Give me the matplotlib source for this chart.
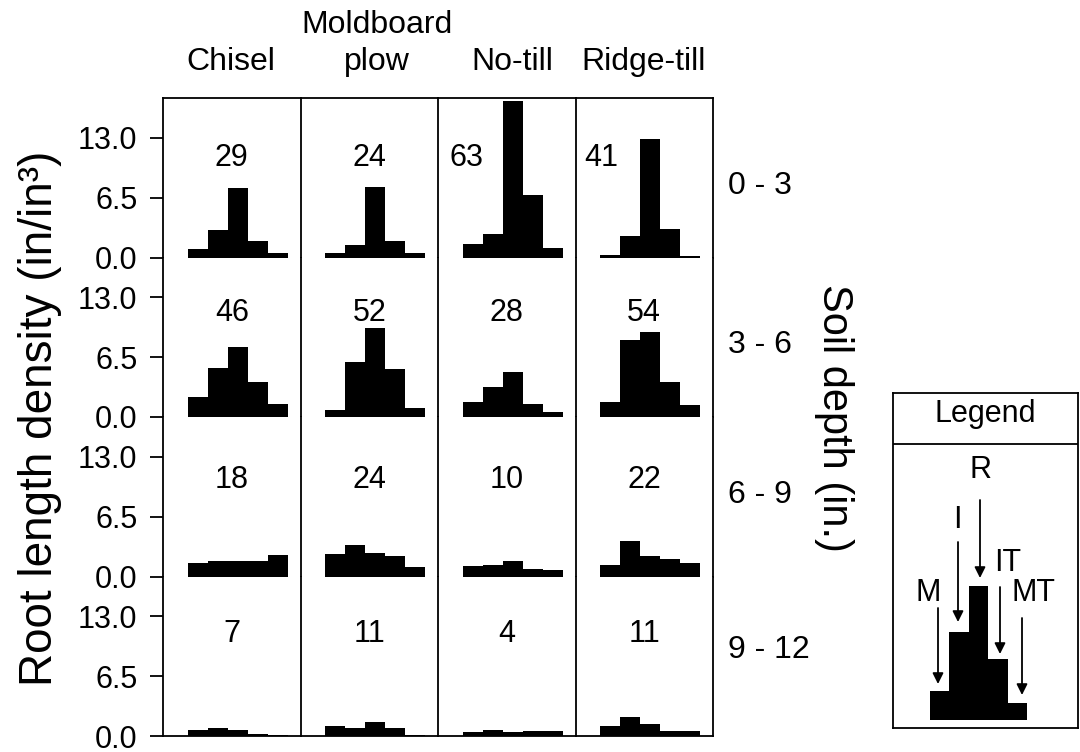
import matplotlib
matplotlib.use('Agg')
import matplotlib.pyplot as plt
import matplotlib.transforms as mtransforms
import numpy as np

plt.rcParams['font.family'] = ['Liberation Sans', 'DejaVu Sans']

# ---------------- data ----------------
tillage = ['Chisel', 'Moldboard plow', 'No-till', 'Ridge-till']
depths = ['0 - 3', '3 - 6', '6 - 9', '9 - 12']
positions = ['M', 'I', 'R', 'IT', 'MT']
yticks = [0.0, 6.5, 13.0]
ytick_labels = ['0.0', '6.5', '13.0']

# root length density (in/in^3) at positions M, I, R, IT, MT; one list per depth
chisel = [[0.9, 3.0, 7.5, 1.8, 0.5],
          [2.2, 5.3, 7.6, 3.8, 1.4],
          [1.5, 1.65, 1.65, 1.65, 2.35],
          [0.6, 0.9, 0.6, 0.2, 0.15]]
moldboard = [[0.5, 1.35, 7.6, 1.8, 0.5],
             [0.8, 6.0, 9.7, 5.2, 1.0],
             [2.4, 3.45, 2.6, 2.2, 1.05],
             [1.1, 0.85, 1.5, 0.9, 0.1]]
notill = [[1.45, 2.5, 17.0, 6.8, 1.05],
          [1.6, 3.2, 4.9, 1.45, 0.55],
          [1.1, 1.25, 1.7, 0.85, 0.75],
          [0.4, 0.6, 0.4, 0.55, 0.55]]
ridgetill = [[0.3, 2.3, 12.8, 3.1, 0.2],
             [1.65, 8.4, 9.25, 3.8, 1.25],
             [1.25, 3.9, 2.2, 1.9, 1.5],
             [1.1, 2.1, 1.25, 0.55, 0.55]]
# numbers printed in each panel (rows = depths, columns = tillage)
panel_numbers = [[29, 24, 63, 41],
                 [46, 52, 28, 54],
                 [18, 24, 10, 22],
                 [7, 11, 4, 11]]
# schematic shape used in the legend diagram (M, I, R, IT, MT)
legend_shape = [29, 88, 134, 61, 17]

series = [chisel, moldboard, notill, ridgetill]

# ---------------- figure ----------------
W, H = 1080, 752
fig = plt.figure(figsize=(W / 100, H / 100), dpi=100)

L, R_, T, B = 163, 713, 98, 736
axes = fig.subplots(4, 4, gridspec_kw=dict(left=L / W, right=R_ / W,
                                            top=1 - T / H, bottom=1 - B / H,
                                            hspace=0, wspace=0))
lw = 1.3
x = np.arange(len(positions))
num_y = [10.8, 11.3, 10.5, 11.1]
for r in range(4):
    for c in range(4):
        ax = axes[r, c]
        ax.bar(x, series[c][r], width=1.0, color='black', edgecolor='none')
        ax.set_xlim(-1.725, 5.15)
        ax.set_ylim(0, 17.3)
        ax.set_xticks([])
        for s in ['top', 'bottom', 'left', 'right']:
            ax.spines[s].set_linewidth(lw)
        ax.spines['top'].set_visible(r == 0)
        ax.spines['bottom'].set_visible(r == 3)
        ax.spines['right'].set_visible(c == 3)
        ax.spines['left'].set_visible(True)
        if c == 0:
            ax.set_yticks(yticks)
            ax.set_yticklabels(ytick_labels)
            ax.tick_params(axis='y', direction='out', length=9.5, width=lw,
                           pad=9, labelsize=22)
        else:
            ax.set_yticks([])
        fx = 0.5
        if r == 0 and c == 2:
            fx = 0.21
        if r == 0 and c == 3:
            fx = 0.19
        trans = mtransforms.blended_transform_factory(ax.transAxes, ax.transData)
        ax.text(fx, num_y[r], str(panel_numbers[r][c]), transform=trans,
                ha='center', va='center', fontsize=22)

# column headers
hdr_x = [231, 377, 512, 644]
hfs = 23
fig.text(hdr_x[0] / W, 1 - 70 / H, 'Chisel', ha='center', va='baseline', fontsize=hfs)
fig.text(hdr_x[1] / W, 1 - 33 / H, 'Moldboard', ha='center', va='baseline', fontsize=hfs)
fig.text(hdr_x[1] / W, 1 - 70 / H, 'plow', ha='center', va='baseline', fontsize=hfs)
fig.text(hdr_x[2] / W, 1 - 70 / H, 'No-till', ha='center', va='baseline', fontsize=hfs)
fig.text(hdr_x[3] / W, 1 - 70 / H, 'Ridge-till', ha='center', va='baseline', fontsize=hfs)

# depth labels
depth_y = [186, 345, 495, 650]
for lab, py in zip(depths, depth_y):
    fig.text(728 / W, 1 - py / H, lab, ha='left', va='center', fontsize=23)

fig.text(834 / W, 1 - 418 / H, 'Soil depth (in.)', rotation=270,
         ha='center', va='center', fontsize=30)
fig.text(40 / W, 1 - 418 / H, 'Root length density (in/in\u00b3)', rotation=90,
         ha='center', va='center', fontsize=33)

# ---------------- legend diagram ----------------
lx0, lx1, ly0, ly1 = 893, 1078, 393, 728
lax = fig.add_axes([lx0 / W, 1 - ly1 / H, (lx1 - lx0) / W, (ly1 - ly0) / H])
lax.set_xlim(lx0, lx1)
lax.set_ylim(H - ly1, H - ly0)
lax.set_xticks([])
lax.set_yticks([])
for s in lax.spines.values():
    s.set_linewidth(lw)
lax.axhline(H - 444, color='black', lw=lw)
lax.text((lx0 + lx1) / 2, H - 414, 'Legend', ha='center', va='center', fontsize=22)

bw = 19.4
bx0 = 930
centers = [bx0 + bw * (i + 0.5) for i in range(5)]
base = H - 720
lax.bar(centers, legend_shape, width=bw, bottom=base, color='black', edgecolor='none')

lab_pos = {'R': (980, 470), 'I': (957, 520), 'IT': (1008, 563),
           'M': (928, 593), 'MT': (1034, 593)}
arrows = {'R': (980, 500, 578), 'I': (958, 542, 622), 'IT': (1000, 587, 654),
          'M': (938, 608, 684), 'MT': (1022, 618, 695)}
for k in positions:
    tx, ty = lab_pos[k]
    lax.text(tx, H - ty, k, ha='center', va='center', fontsize=22)
    ax_, y_a, y_b = arrows[k]
    lax.annotate('', xy=(ax_, H - y_b), xytext=(ax_, H - y_a),
                 arrowprops=dict(arrowstyle='-|>', color='black', lw=1.3,
                                 mutation_scale=16, shrinkA=0, shrinkB=0))

fig.savefig('out.png', dpi=100)
